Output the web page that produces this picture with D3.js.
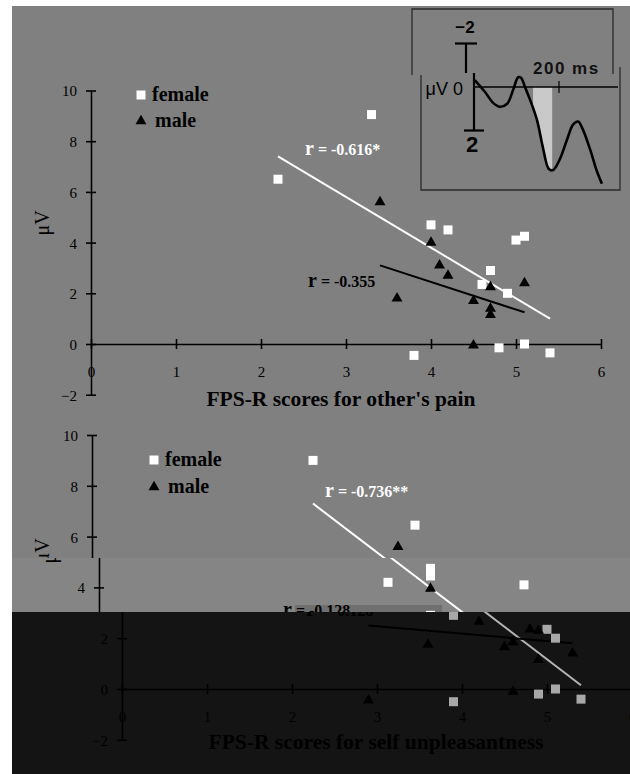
<!DOCTYPE html>
<html><head><meta charset="utf-8">
<script src="https://cdn.jsdelivr.net/npm/d3@7"></script>
<style>html,body{margin:0;padding:0;background:#fff;} svg{display:block}</style>
</head><body>
<script>
// ---------------- data ----------------
const xTicks = [0, 1, 2, 3, 4, 5, 6];
const yTicks = [10, 8, 6, 4, 2, 0, -2];
const legendLabels = ["female", "male"];

// FPS-R scores for other's pain  [score, µV]
const otherFemale = [[2.2,6.5],[3.3,9.05],[4.0,4.7],[4.2,4.5],[5.0,4.1],[5.1,4.25],[4.7,2.9],[4.6,2.35],[4.9,2.0],[3.8,-0.45],[4.8,-0.15],[5.1,0.0],[5.4,-0.35]];
const otherMale = [[3.4,5.6],[4.0,4.0],[4.1,3.1],[4.2,2.7],[3.6,1.8],[4.5,1.7],[4.7,2.25],[4.7,1.4],[4.7,1.15],[5.1,2.4],[4.5,-0.05]];
const otherFemaleFit = [[2.2,7.4],[5.4,1.0]];
const otherMaleFit = [[3.4,3.1],[5.1,1.25]];
const otherR = ["-0.616*", "-0.355"];
const otherTitle = "FPS-R scores for other's pain";

// FPS-R scores for self unpleasantness
const selfFemale = [[2.6,9.0],[3.8,6.45],[3.4,4.2],[3.9,4.75],[3.9,4.45],[5.0,4.1],[3.9,2.9],[5.0,2.35],[5.1,2.0],[4.9,-0.2],[5.1,0.0],[5.4,-0.4],[3.9,-0.5]];
const selfMale = [[3.6,5.6],[3.9,3.95],[4.2,2.65],[3.6,1.75],[4.5,1.65],[4.6,1.85],[4.8,2.35],[4.9,2.3],[4.9,1.15],[5.3,1.4],[4.6,-0.1],[2.9,-0.45]];
const selfFemaleFit = [[2.6,7.3],[5.4,0.15]];
const selfMaleFit = [[2.9,2.5],[5.3,1.8]];
const selfR = ["-0.736**", "-0.128"];
const selfTitle = "FPS-R scores for self unpleasantness";

// inset ERP waveform [ms, µV] (positive plotted downward)
const erpTime = [2,26,45,61,78,92,104,111,120,132,148,162,176,186,202,219,233,245,256,273,289,301];
const erpAmp  = [-0.32,0.23,0.73,0.91,0.77,0.14,-0.45,-0.41,0,0.59,1.5,2.77,3.77,3.82,3.32,2.41,1.73,1.59,1.95,2.86,3.86,4.45];
const erpWindow = [139, 184];
const insetLabels = {neg: "\u22122", pos: "2", unit: "\u03bcV 0", time: "200 ms"};

// ---------------- drawing ----------------
const W = 630, H = 774;
const SERIF = '"Liberation Serif","Times New Roman",serif';
const SANS = '"Liberation Sans",Arial,sans-serif';

const svg = d3.select("body").append("svg").attr("width", W).attr("height", H);
const defs = svg.append("defs");
svg.append("rect").attr("width", W).attr("height", H).attr("fill", "#fff");
svg.append("rect").attr("x", 12).attr("y", 6).attr("width", W - 12).attr("height", H - 6).attr("fill", "#808080");

function fmt(d){ return d < 0 ? "\u2212" + (-d) : String(d); }

function drawScatter(g, cfg) {
  const c = cfg.colors;
  const x = d3.scaleLinear().domain([0, 6]).range([0, 6 * cfg.ux]);
  const y = d3.scaleLinear().domain([-2, 10]).range([cfg.y0 + 2 * cfg.uy, cfg.y0 - 10 * cfg.uy]);

  if (cfg.band) {
    g.append("rect").attr("x", cfg.band.x).attr("y", cfg.band.y).attr("width", cfg.band.w).attr("height", cfg.band.h).attr("fill", cfg.band.fill);
  }

  // y axis
  const ya = g.append("g").call(d3.axisLeft(y).tickValues(yTicks).tickSize(5).tickSizeOuter(0).tickPadding(9).tickFormat(fmt));
  ya.select(".domain").attr("stroke", c.axis).attr("stroke-width", 1.6);
  ya.selectAll(".tick line").attr("x1", -5).attr("x2", 5).attr("stroke", c.axis).attr("stroke-width", 1.6);
  ya.selectAll(".tick text").attr("font-family", SERIF).attr("font-size", 15).attr("fill", c.text).attr("dy", "0.36em");

  // x axis
  const xa = g.append("g").attr("transform", `translate(0,${y(0)})`)
    .call(d3.axisBottom(x).tickValues(xTicks).tickSize(5).tickSizeOuter(0).tickPadding(17).tickFormat(fmt));
  xa.select(".domain").attr("stroke", c.axis).attr("stroke-width", 1.6);
  xa.selectAll(".tick line").attr("y1", -5).attr("y2", 5).attr("stroke", c.axis).attr("stroke-width", 1.6);
  xa.selectAll(".tick text").attr("font-family", SERIF).attr("font-size", 15).attr("fill", c.text);

  // fit lines
  const line = d3.line().x(d => x(d[0])).y(d => y(d[1]));
  g.append("path").attr("d", line(cfg.femaleFit)).attr("stroke", c.whiteLine).attr("stroke-width", 2).attr("fill", "none");
  g.append("path").attr("d", line(cfg.maleFit)).attr("stroke", c.black).attr("stroke-width", 2).attr("fill", "none");

  // points
  const sq = d3.symbol().type(d3.symbolSquare).size(81);
  const tri = d3.symbol().type(d3.symbolTriangle).size(52);
  g.selectAll(".f").data(cfg.female).join("path").attr("d", sq)
    .attr("transform", d => `translate(${x(d[0])},${y(d[1])})`).attr("fill", c.white);
  g.selectAll(".m").data(cfg.male).join("path").attr("d", tri)
    .attr("transform", d => `translate(${x(d[0])},${y(d[1])})`).attr("fill", c.black);

  // legend
  const L = cfg.legend;
  g.append("path").attr("d", sq).attr("transform", `translate(${L.sx},${L.fy})`).attr("fill", c.white);
  g.append("text").attr("x", L.fx).attr("y", L.fy + 6).text(legendLabels[0])
    .attr("font-family", SERIF).attr("font-weight", "bold").attr("font-size", 20).attr("fill", c.black);
  g.append("path").attr("d", tri).attr("transform", `translate(${L.sx},${L.my})`).attr("fill", c.black);
  g.append("text").attr("x", L.mx).attr("y", L.my + 6).text(legendLabels[1])
    .attr("font-family", SERIF).attr("font-weight", "bold").attr("font-size", 20).attr("fill", c.black);

  // r labels
  cfg.rLabels.forEach((r, i) => {
    const t = g.append("text").attr("x", r.x).attr("y", r.y).attr("font-family", SERIF).attr("font-weight", "bold")
      .attr("fill", i === 0 ? c.whiteLine : c.black);
    t.append("tspan").attr("font-size", 20).text("r");
    t.append("tspan").attr("font-size", 16).text(" = " + cfg.r[i]);
  });

  // axis title
  g.append("text").attr("x", cfg.title.x).attr("y", cfg.title.y).attr("text-anchor", "middle")
    .attr("font-family", SERIF).attr("font-weight", "bold").attr("font-size", 21.5).attr("fill", c.text).text(cfg.title.text);
  // y title
  g.append("text").attr("transform", `translate(${cfg.ytitle.x},${cfg.ytitle.y}) rotate(-90)`).attr("text-anchor", "middle")
    .attr("font-family", SERIF).attr("font-size", 20).attr("fill", c.text).text("\u03bcV");
}

const grayColors = {white: "#ffffff", whiteLine: "#ffffff", black: "#000", axis: "#000", text: "#000"};
const darkColors = {white: "#a8a8a8", whiteLine: "#b4b4b4", black: "#000", axis: "#000", text: "#000"};

// ---- top chart ----
drawScatter(svg.append("g").attr("transform", "translate(91,0)"), {
  ux: 85, uy: 25.35, y0: 344, colors: grayColors,
  female: otherFemale, male: otherMale, femaleFit: otherFemaleFit, maleFit: otherMaleFit, r: otherR,
  legend: {sx: 50, fy: 95, fx: 61, my: 121, mx: 64},
  rLabels: [{x: 214, y: 155}, {x: 217, y: 287}],
  title: {x: 250, y: 406, text: otherTitle},
  ytitle: {x: -42, y: 223}
});

// ---- bottom chart, drawn in three displaced bands ----
const sections = [
  {y0: 412, y1: 558, x0: 92, bg: null, colors: grayColors},
  {y0: 558, y1: 612, x0: 99, bg: "#858585", colors: grayColors},
  {y0: 612, y1: 774, x0: 122, bg: "#141414", colors: darkColors}
];
sections.forEach((s, i) => {
  if (s.bg) svg.append("rect").attr("x", 12).attr("y", s.y0).attr("width", W - 12).attr("height", s.y1 - s.y0).attr("fill", s.bg);
  defs.append("clipPath").attr("id", "sec" + i).append("rect").attr("x", 12).attr("y", s.y0).attr("width", W - 12).attr("height", s.y1 - s.y0);
  const outer = svg.append("g").attr("clip-path", `url(#sec${i})`);
  drawScatter(outer.append("g").attr("transform", `translate(${s.x0},0)`), {
    ux: 85, uy: 25.4, y0: 689, colors: s.colors,
    female: selfFemale, male: selfMale, femaleFit: selfFemaleFit, maleFit: selfMaleFit, r: selfR,
    legend: {sx: 62, fy: 460, fx: 73, my: 487, mx: 76},
    rLabels: [{x: 233, y: 497}, {x: 184, y: 616}],
    title: {x: 254, y: 749, text: selfTitle},
    ytitle: {x: -43, y: 551},
    band: {x: 196, y: 605, w: 147, h: 7, fill: "#707070"}
  });
});

// ---- inset ERP ----
const ins = svg.append("g");
const tScale = d3.scaleLinear().domain([0, 200]).range([474, 559]);
const aScale = d3.scaleLinear().domain([0, 2]).range([87, 130.5]);
const shift = -8; // upper part displaced left
ins.append("path").attr("d", "M412,75V9H613V74").attr("fill", "none").attr("stroke", "#2a2a2a").attr("stroke-width", 1.3);
ins.append("path").attr("d", "M421,75V190H620V67").attr("fill", "none").attr("stroke", "#2a2a2a").attr("stroke-width", 1.3);
const ax0 = tScale(0) + shift;
ins.append("line").attr("x1", ax0).attr("x2", ax0).attr("y1", aScale(-2)).attr("y2", 73).attr("stroke", "#000").attr("stroke-width", 2.2);
ins.append("line").attr("x1", ax0 - 11).attr("x2", ax0 + 11).attr("y1", aScale(-2)).attr("y2", aScale(-2)).attr("stroke", "#000").attr("stroke-width", 2.2);
ins.append("text").attr("x", ax0 - 1).attr("y", 33).attr("text-anchor", "middle").attr("font-family", SANS).attr("font-weight", "bold").attr("font-size", 17).text(insetLabels.neg);
const ax1 = tScale(0);
const area = d3.area().curve(d3.curveCatmullRom).x((d, i) => tScale(erpTime[i])).y0(aScale(0)).y1((d, i) => aScale(erpAmp[i]));
defs.append("clipPath").attr("id", "win").append("rect").attr("x", tScale(erpWindow[0])).attr("y", 0).attr("width", tScale(erpWindow[1]) - tScale(erpWindow[0])).attr("height", 200);
ins.append("path").attr("d", area(erpAmp)).attr("fill", "#c9c9c9").attr("clip-path", "url(#win)");
ins.append("line").attr("x1", ax1).attr("x2", ax1).attr("y1", 73).attr("y2", aScale(2)).attr("stroke", "#000").attr("stroke-width", 2.2);
ins.append("line").attr("x1", ax1 - 10).attr("x2", ax1 + 10).attr("y1", aScale(2)).attr("y2", aScale(2)).attr("stroke", "#000").attr("stroke-width", 2.2);
ins.append("line").attr("x1", ax1).attr("x2", 618).attr("y1", aScale(0)).attr("y2", aScale(0)).attr("stroke", "#000").attr("stroke-width", 1.6);
ins.append("line").attr("x1", tScale(200)).attr("x2", tScale(200)).attr("y1", aScale(0) - 6).attr("y2", aScale(0) + 6).attr("stroke", "#000").attr("stroke-width", 1.2);
const wave = d3.line().curve(d3.curveCatmullRom).x((d, i) => tScale(erpTime[i])).y((d, i) => aScale(erpAmp[i]));
ins.append("path").attr("d", wave(erpAmp)).attr("fill", "none").attr("stroke", "#000").attr("stroke-width", 2.6);
ins.append("text").attr("x", ax1 - 2).attr("y", 152).attr("text-anchor", "middle").attr("font-family", SANS).attr("font-weight", "bold").attr("font-size", 22).text(insetLabels.pos);
ins.append("text").attr("x", 463).attr("y", 95).attr("text-anchor", "end").attr("font-family", SANS).attr("font-size", 18).text(insetLabels.unit);
ins.append("text").attr("x", 533).attr("y", 74).attr("font-family", SANS).attr("font-weight", "bold").attr("font-size", 17).attr("letter-spacing", 1.5).attr("fill", "#111").text(insetLabels.time);
</script>
</body></html>
